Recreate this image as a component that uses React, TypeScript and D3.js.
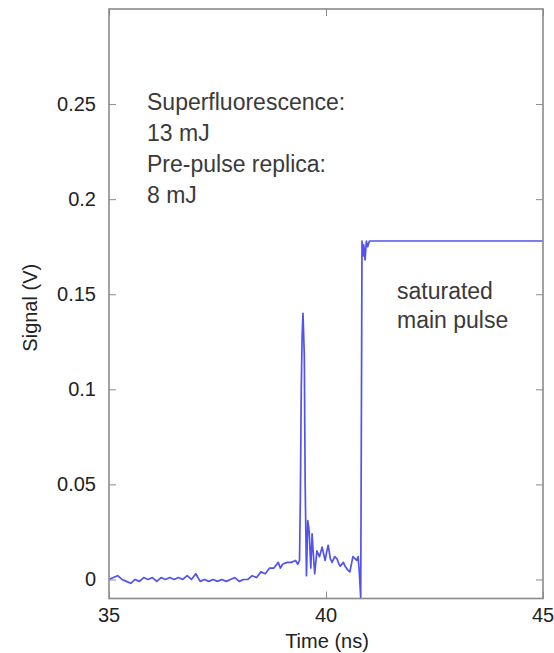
import React, { useEffect, useRef } from 'react';
import * as d3 from 'd3';

// trace: time (ns) and signal (V)
const times = [
  35.0, 35.1, 35.2, 35.3, 35.4, 35.5, 35.6, 35.7, 35.8, 35.9,
  36.0, 36.1, 36.2, 36.3, 36.4, 36.5, 36.6, 36.7, 36.8, 36.9,
  37.0, 37.1, 37.2, 37.3, 37.4, 37.5, 37.6, 37.7, 37.8, 37.9,
  38.0, 38.1, 38.2, 38.3, 38.4, 38.5, 38.6, 38.7, 38.8, 38.9,
  38.95, 39.0, 39.1, 39.2, 39.3, 39.35, 39.39,
  39.41, 39.43, 39.45, 39.47, 39.5, 39.52, 39.55,
  39.58, 39.61, 39.65, 39.68, 39.7, 39.74, 39.79, 39.85, 39.91, 39.98,
  40.02, 40.05, 40.1, 40.14, 40.2, 40.25, 40.3, 40.33, 40.4, 40.44,
  40.5, 40.55, 40.62, 40.67, 40.71, 40.74, 40.77, 40.8,
  40.83, 40.85, 40.87, 40.9, 40.93, 40.96, 41.0, 45.0,
];
const signal = [
  0.000, 0.001, 0.002, 0.000, -0.001, -0.002, 0.000, -0.001, 0.001, 0.000,
  0.001, -0.001, 0.001, 0.000, 0.001, 0.000, 0.001, 0.000, 0.002, 0.000,
  0.003, -0.001, 0.000, -0.001, 0.000, -0.001, 0.000, -0.001, 0.000, 0.001,
  -0.001, 0.000, 0.000, 0.002, 0.001, 0.004, 0.003, 0.006, 0.006, 0.009,
  0.006, 0.008, 0.009, 0.009, 0.010, 0.008, 0.010,
  0.045, 0.100, 0.128, 0.140, 0.118, 0.050, 0.002,
  0.031, 0.026, 0.006, 0.024, 0.016, 0.003, 0.015, 0.012, 0.017, 0.010,
  0.015, 0.018, 0.011, 0.009, 0.012, 0.011, 0.008, 0.007, 0.009, 0.007,
  0.005, 0.004, 0.012, 0.011, 0.010, 0.012, 0.003, -0.010,
  0.178, 0.170, 0.176, 0.168, 0.178, 0.175, 0.178, 0.178,
];

const xTicks = [35, 40, 45];
const yTicks = [0, 0.05, 0.1, 0.15, 0.2, 0.25];
const noteLines = ['Superfluorescence:', '13 mJ', 'Pre-pulse replica:', '8 mJ'];
const pulseLines = ['saturated', 'main pulse'];

export default function App() {
  const svgRef = useRef<SVGSVGElement>(null);

  useEffect(() => {
    document.body.style.margin = '0';
    const width = 554;
    const height = 653;
    const left = 109, right = 543, top = 9, bottom = 598.5;
    const font = '"Liberation Sans", Arial, sans-serif';

    const x = d3.scaleLinear().domain([35, 45]).range([left, right]);
    const y = d3.scaleLinear().domain([-0.01, 0.3]).range([bottom, top]);

    const svg = d3.select(svgRef.current);
    svg.selectAll('*').remove();
    svg.attr('width', width).attr('height', height)
      .style('display', 'block').style('background', '#fff');

    const frame = '#8a8a8a';

    // line
    const data = times.map((t, i) => ({ t, v: signal[i] }));
    svg.append('path')
      .datum(data)
      .attr('fill', 'none')
      .attr('stroke', '#5252f0')
      .attr('stroke-width', 1.7)
      .attr('stroke-linejoin', 'round')
      .attr('d', d3.line<{ t: number; v: number }>().x(d => x(d.t)).y(d => y(d.v)));

    // frame
    svg.append('rect')
      .attr('x', left).attr('y', top)
      .attr('width', right - left).attr('height', bottom - top)
      .attr('fill', 'none').attr('stroke', frame).attr('stroke-width', 1.6);

    // y ticks (mirrored, inward)
    svg.append('g').attr('transform', `translate(${left},0)`)
      .call(d3.axisRight(y).tickValues(yTicks).tickSize(7).tickFormat(() => ''))
      .call(g => g.select('.domain').remove())
      .call(g => g.selectAll('line').attr('stroke', frame));
    svg.append('g').attr('transform', `translate(${right},0)`)
      .call(d3.axisLeft(y).tickValues(yTicks).tickSize(7).tickFormat(() => ''))
      .call(g => g.select('.domain').remove())
      .call(g => g.selectAll('line').attr('stroke', frame));
    // x ticks
    svg.append('g').attr('transform', `translate(0,${bottom})`)
      .call(d3.axisTop(x).tickValues(xTicks).tickSize(7).tickFormat(() => ''))
      .call(g => g.select('.domain').remove())
      .call(g => g.selectAll('line').attr('stroke', frame));
    svg.append('g').attr('transform', `translate(0,${top})`)
      .call(d3.axisBottom(x).tickValues(xTicks).tickSize(7).tickFormat(() => ''))
      .call(g => g.select('.domain').remove())
      .call(g => g.selectAll('line').attr('stroke', frame));

    // tick labels
    svg.append('g')
      .selectAll('text')
      .data(yTicks)
      .join('text')
      .attr('x', 96)
      .attr('y', d => y(d) + 7)
      .attr('text-anchor', 'end')
      .attr('font-family', font)
      .attr('font-size', 20)
      .attr('fill', '#222')
      .text(d => (d === 0 ? '0' : String(d)));

    svg.append('g')
      .selectAll('text')
      .data(xTicks)
      .join('text')
      .attr('x', d => x(d))
      .attr('y', 622)
      .attr('text-anchor', 'middle')
      .attr('font-family', font)
      .attr('font-size', 20)
      .attr('fill', '#222')
      .text(d => String(d));

    // axis titles
    svg.append('text')
      .attr('x', 327).attr('y', 648)
      .attr('text-anchor', 'middle')
      .attr('font-family', font).attr('font-size', 20).attr('fill', '#222')
      .text('Time (ns)');
    svg.append('text')
      .attr('transform', `translate(37,${(top + bottom) / 2 + 4}) rotate(-90)`)
      .attr('text-anchor', 'middle')
      .attr('font-family', font).attr('font-size', 20).attr('fill', '#222')
      .text('Signal (V)');

    // annotations
    svg.append('g')
      .selectAll('text')
      .data(noteLines)
      .join('text')
      .attr('x', 147)
      .attr('y', (d, i) => 110 + i * 31)
      .attr('font-family', font)
      .attr('font-size', 23)
      .attr('fill', '#3a3a3a')
      .text(d => d);

    svg.append('g')
      .selectAll('text')
      .data(pulseLines)
      .join('text')
      .attr('x', 397)
      .attr('y', (d, i) => 299 + i * 29)
      .attr('font-family', font)
      .attr('font-size', 23)
      .attr('fill', '#3a3a3a')
      .text(d => d);
  }, []);

  return <svg ref={svgRef}></svg>;
}
